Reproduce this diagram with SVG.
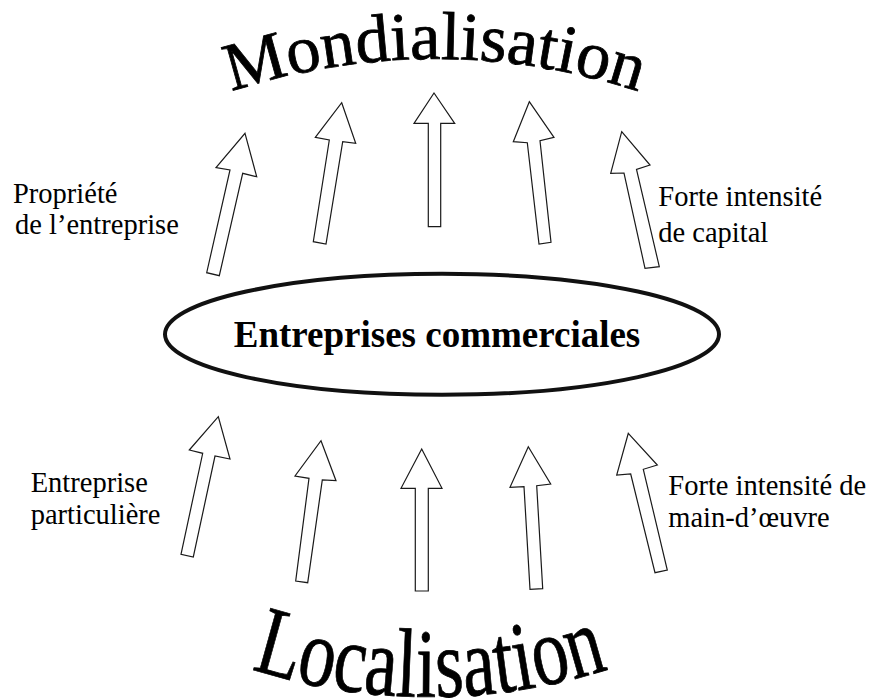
<svg xmlns="http://www.w3.org/2000/svg" width="869" height="700" viewBox="0 0 869 700">
<style>
.arrow{fill:#fff;stroke:#1a1a1a;stroke-width:1.2;stroke-linejoin:miter}
.lbl{font-family:"Liberation Serif","Times New Roman",serif;font-size:28.5px;fill:#000}
</style>
<defs>
<path id="arcTop" d="M 191.5 106.3 A 650 650 0 0 1 678.5 106.3"/>
<path id="arcBot" d="M 182 642 A 587 587 0 0 0 678 642"/>
</defs>
<rect width="869" height="700" fill="#fff"/>
<g id="title-mondialisation">
<text font-family="'Liberation Serif','Times New Roman',serif" font-size="68" text-anchor="middle" fill="#000" stroke="#000" stroke-width="0.8"><textPath href="#arcTop" startOffset="50%" textLength="414" lengthAdjust="spacingAndGlyphs">Mondialisation</textPath></text>
</g>
<g id="title-localisation">
<text font-family="'Liberation Serif','Times New Roman',serif" font-size="98" text-anchor="middle" fill="#000" stroke="#000" stroke-width="0.8"><textPath href="#arcBot" startOffset="50%" textLength="363" lengthAdjust="spacingAndGlyphs">Localisation</textPath></text>
</g>
<g id="connectors">
<polygon class="arrow" points="245,133.3 256.7,176.7 242.7,173.3 219.3,275.7 206.7,272.7 230,170 216,167.7"/>
<polygon class="arrow" points="341.7,102.7 355.7,143.3 342.7,141.7 326,244 313.3,241.7 329.3,140 315.3,137.3"/>
<polygon class="arrow" points="434,93 454.7,123.3 440.7,123.3 440.7,226.7 428.3,226.7 428.3,123.3 414,123.3"/>
<polygon class="arrow" points="529.3,101.7 554,137.3 540,140.7 551,242.3 539,244 527.3,142.7 513.3,141.7"/>
<polygon class="arrow" points="621.7,131.7 650,165 636.5,169.5 659.3,266.7 645,268.3 624,173 610.7,173.3"/>
<polygon class="arrow" points="218.3,416.7 230,459 215,456 193.3,557 181,554.3 202.7,453.3 189.3,450"/>
<polygon class="arrow" points="321,440.7 336,480.7 322.3,480 307.7,582.7 295.7,581 309,478.3 295,476"/>
<polygon class="arrow" points="421.7,449 442,488.3 428.3,488.3 428.3,591 415.3,591 415.3,488.3 401,488.3"/>
<polygon class="arrow" points="528.3,446.7 550.7,484 536.7,485.7 542.7,588.7 530,589.3 524,486.7 510,487.3"/>
<polygon class="arrow" points="628.3,433.3 657.3,465 643.3,469.3 667.3,570 655,572.7 630.7,474 616.7,475"/>
</g>
<g id="node-entreprises">
<ellipse cx="442" cy="334.3" rx="277" ry="60.5" fill="none" stroke="#111" stroke-width="4"/>
<text x="437" y="347.3" text-anchor="middle" font-family="'Liberation Serif','Times New Roman',serif" font-weight="bold" font-size="37" fill="#000">Entreprises commerciales</text>
</g>
<g id="label-propriete">
<text class="lbl" x="13" y="203.3">Propriété</text>
<text class="lbl" x="15" y="234.3">de l’entreprise</text>
</g>
<g id="label-capital">
<text class="lbl" x="658.3" y="205.7">Forte intensité</text>
<text class="lbl" x="658.3" y="241.7">de capital</text>
</g>
<g id="label-particuliere">
<text class="lbl" x="30.7" y="491.7">Entreprise</text>
<text class="lbl" x="30.7" y="524.3">particulière</text>
</g>
<g id="label-maindoeuvre">
<text class="lbl" x="668.3" y="495">Forte intensité de</text>
<text class="lbl" x="668.3" y="526.7">main-d’œuvre</text>
</g>
</svg>
